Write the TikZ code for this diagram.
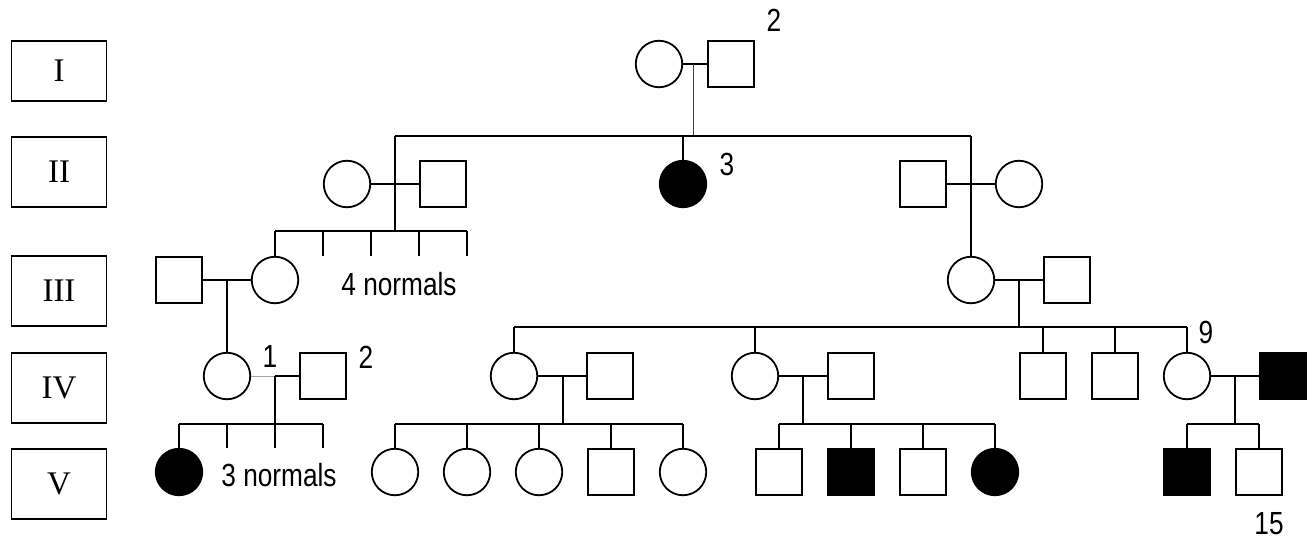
\documentclass[tikz,border=0pt]{standalone}
\usepackage{fontspec}
\setmainfont{Liberation Serif}
\newfontfamily\lab[FakeStretch=0.82]{Liberation Sans}
\begin{document}
\begin{tikzpicture}[x=1pt,y=-1pt,
  lw/.style={line width=1.8pt},
  fem/.style={circle,draw,lw,minimum size=46.5pt,inner sep=0pt},
  mal/.style={rectangle,draw,lw,minimum size=46.5pt,inner sep=0pt},
  aff/.style={fill=black},
  genbox/.style={rectangle,draw,lw,minimum width=95pt,inner sep=0pt,font=\fontsize{33}{36}\selectfont},
  num/.style={inner sep=0pt,font=\lab\fontsize{32}{34}\selectfont},
  ln/.style={lw},
  thin/.style={line width=1pt,black!75}]
\useasboundingbox (0,0) rectangle (1316,540);
% generation boxes
\node[genbox,minimum height=60pt] (gI) at (59,71) {I};
\node[genbox,minimum height=70pt] (gII) at (59,172) {II};
\node[genbox,minimum height=70pt] (gIII) at (59,291) {III};
\node[genbox,minimum height=70pt] (gIV) at (59,388) {IV};
\node[genbox,minimum height=70pt] (gV) at (59,484) {V};
% generation I
\node[fem] (a1) at (659,64) {};
\node[mal] (a2) at (731,64) {};
\node[num] (t2a) at (774,20) {2};
\coordinate (ma) at (693,64);
% generation II
\node[fem] (b1) at (347,184) {};
\node[mal] (b2) at (443,184) {};
\node[fem,aff] (b3) at (683,184) {};
\node[num] (t3) at (727,164) {3};
\node[mal] (b4) at (923,184) {};
\node[fem] (b5) at (1019,184) {};
\coordinate (sibIIl) at (395,136);
\coordinate (sibIIr) at (971,136);
% generation III
\node[mal] (c1) at (179,280) {};
\node[fem] (c2) at (275,280) {};
\node[num] (t4) at (399,284) {4 normals};
\node[fem] (c3) at (971,280) {};
\node[mal] (c4) at (1067,280) {};
\coordinate (sibIIIl) at (275,231);
\coordinate (sibIIIr) at (467,231);
\foreach \x/\n in {323/k1,371/k2,419/k3,467/k4}{\coordinate (\n) at (\x,256);}
% generation IV
\node[fem] (d1) at (227,376) {};
\node[mal] (d2) at (323,376) {};
\node[num] (t1b) at (270,356) {1};
\node[num] (t2b) at (366,357) {2};
\node[fem] (d3) at (514,376) {};
\node[mal] (d4) at (610,376) {};
\node[fem] (d5) at (755,376) {};
\node[mal] (d6) at (851,376) {};
\node[mal] (d7) at (1043,376) {};
\node[mal] (d8) at (1115,376) {};
\node[fem] (d9) at (1187,376) {};
\node[num] (t9) at (1206,332) {9};
\node[mal,aff] (d10) at (1283,376) {};
\coordinate (sibIVl) at (514,327);
\coordinate (sibIVr) at (1187,327);
% generation V
\node[fem,aff] (e1) at (179,472) {};
\node[num] (t3n) at (279,475) {3 normals};
\foreach \x/\n in {227/q1,275/q2,323/q3}{\coordinate (\n) at (\x,448);}
\node[fem] (e2) at (395,472) {};
\node[fem] (e3) at (467,472) {};
\node[fem] (e4) at (539,472) {};
\node[mal] (e5) at (611,472) {};
\node[fem] (e6) at (683,472) {};
\node[mal] (e7) at (779,472) {};
\node[mal,aff] (e8) at (851,472) {};
\node[mal] (e9) at (923,472) {};
\node[fem,aff] (e10) at (995,472) {};
\node[mal,aff] (e11) at (1187,472) {};
\node[mal] (e12) at (1259,472) {};
\node[num] (t15) at (1269,524) {15};
% connectors generation I
\draw[ln] (a1.east) -- (a2.west);
\draw[thin] (ma) -- (ma |- sibIIl);
\draw[ln] (sibIIl) -- (sibIIr);
\draw[ln] (sibIIl) -- (sibIIl |- sibIIIl);
\draw[ln] (b3 |- sibIIl) -- (b3.north);
\draw[ln] (sibIIr) -- (c3.north);
% generation II couples
\draw[ln] (b1.east) -- (b2.west);
\draw[ln] (b4.east) -- (b5.west);
\draw[ln] (sibIIIl) -- (sibIIIr);
\draw[ln] (sibIIIl) -- (c2.north);
\foreach \n in {k1,k2,k3,k4}{\draw[ln] (\n |- sibIIIl) -- (\n);}
% generation III couples
\draw[ln] (c1.east) -- (c2.west);
\draw[ln] (227,280) -- (d1.north);
\draw[ln] (c3.east) -- (c4.west);
\draw[ln] (1019,280) -- (1019,327);
\draw[ln] (sibIVl) -- (sibIVr);
\foreach \n in {d3,d5,d7,d8,d9}{\draw[ln] (\n |- sibIVl) -- (\n.north);}
% generation IV couples
\draw[line width=1pt,black!35] (d1.east) -- (275,376);
\draw[ln] (275,376) -- (d2.west);
\draw[ln] (275,376) -- (275,424);
\draw[ln] (179,424) -- (323,424);
\draw[ln] (179,424) -- (e1.north);
\foreach \n in {q1,q2,q3}{\draw[ln] (\n |- 0,424) -- (\n);}
\draw[ln] (d3.east) -- (d4.west);
\draw[ln] (563,376) -- (563,424);
\draw[ln] (395,424) -- (683,424);
\foreach \n in {e2,e3,e4,e5,e6}{\draw[ln] (\n |- 0,424) -- (\n.north);}
\draw[ln] (d5.east) -- (d6.west);
\draw[ln] (803,376) -- (803,424);
\draw[ln] (779,424) -- (995,424);
\foreach \n in {e7,e8,e9,e10}{\draw[ln] (\n |- 0,424) -- (\n.north);}
\draw[ln] (d9.east) -- (d10.west);
\draw[ln] (1235,376) -- (1235,424);
\draw[ln] (1187,424) -- (1259,424);
\foreach \n in {e11,e12}{\draw[ln] (\n |- 0,424) -- (\n.north);}
\end{tikzpicture}
\end{document}
